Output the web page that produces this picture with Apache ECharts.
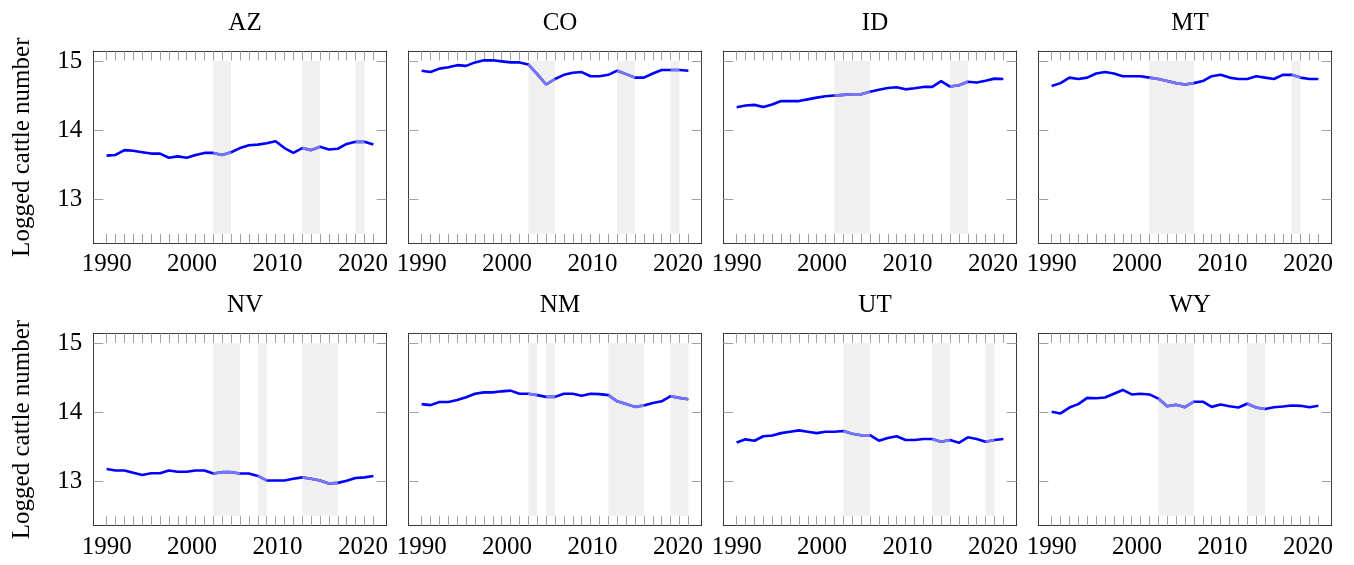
<!DOCTYPE html>
<html><head><meta charset="utf-8">
<script src="https://cdn.jsdelivr.net/npm/echarts@6/dist/echarts.min.js"></script>
<style>html,body{margin:0;padding:0;background:#fff}#c{width:1354px;height:565px}</style>
</head><body><div id="c"></div>
<script>
// ---------- data ----------
const STATES = ['AZ', 'CO', 'ID', 'MT', 'NV', 'NM', 'UT', 'WY'];
const YEARS = [1990, 1991, 1992, 1993, 1994, 1995, 1996, 1997, 1998, 1999,
               2000, 2001, 2002, 2003, 2004, 2005, 2006, 2007, 2008, 2009,
               2010, 2011, 2012, 2013, 2014, 2015, 2016, 2017, 2018, 2019, 2020];
const AZ = [13.63, 13.64, 13.71, 13.70, 13.68, 13.66, 13.66, 13.60, 13.62, 13.60,
            13.64, 13.67, 13.67, 13.64, 13.68, 13.74, 13.78, 13.79, 13.81, 13.84,
            13.74, 13.67, 13.74, 13.71, 13.76, 13.72, 13.73, 13.80, 13.83, 13.83, 13.79];
const CO = [14.86, 14.84, 14.89, 14.91, 14.94, 14.93, 14.98, 15.01, 15.01, 14.995,
            14.98, 14.98, 14.95, 14.81, 14.66, 14.74, 14.80, 14.83, 14.84, 14.78,
            14.78, 14.80, 14.86, 14.81, 14.76, 14.76, 14.82, 14.87, 14.87, 14.87, 14.86];
const ID = [14.33, 14.355, 14.365, 14.335, 14.37, 14.42, 14.42, 14.42, 14.445, 14.47,
            14.49, 14.50, 14.51, 14.52, 14.52, 14.555, 14.585, 14.61, 14.62, 14.59,
            14.605, 14.625, 14.625, 14.71, 14.63, 14.65, 14.70, 14.69, 14.715, 14.745, 14.74];
const MT = [14.64, 14.68, 14.76, 14.74, 14.76, 14.82, 14.84, 14.82, 14.78, 14.78,
            14.78, 14.76, 14.74, 14.71, 14.68, 14.66, 14.68, 14.71, 14.78, 14.80,
            14.76, 14.74, 14.74, 14.78, 14.76, 14.74, 14.80, 14.80, 14.76, 14.74, 14.74];
const NV = [13.18, 13.16, 13.16, 13.125, 13.095, 13.12, 13.12, 13.16, 13.14, 13.14,
            13.16, 13.16, 13.115, 13.135, 13.135, 13.115, 13.115, 13.08, 13.015, 13.015,
            13.015, 13.04, 13.06, 13.04, 13.015, 12.97, 12.98, 13.01, 13.05, 13.06, 13.08];
const NM = [14.12, 14.105, 14.15, 14.15, 14.18, 14.22, 14.27, 14.29, 14.29, 14.305,
            14.315, 14.27, 14.27, 14.25, 14.225, 14.225, 14.27, 14.27, 14.24, 14.27,
            14.265, 14.25, 14.16, 14.12, 14.08, 14.10, 14.135, 14.16, 14.235, 14.21, 14.19];
const UT = [13.565, 13.61, 13.59, 13.655, 13.665, 13.70, 13.72, 13.74, 13.72, 13.70,
            13.72, 13.72, 13.73, 13.69, 13.67, 13.67, 13.59, 13.63, 13.655, 13.60,
            13.60, 13.615, 13.615, 13.575, 13.60, 13.56, 13.64, 13.615, 13.575, 13.60, 13.615];
const WY = [14.01, 13.985, 14.07, 14.12, 14.21, 14.205, 14.215, 14.27, 14.325, 14.26,
            14.27, 14.26, 14.20, 14.09, 14.11, 14.075, 14.155, 14.155, 14.08, 14.115,
            14.09, 14.07, 14.125, 14.07, 14.05, 14.075, 14.085, 14.10, 14.095, 14.075, 14.095];
const VALUES = {AZ, CO, ID, MT, NV, NM, UT, WY};
// drought periods [start year, end year]
const DROUGHT = {
  AZ: [[2002, 2004], [2012, 2014], [2018, 2019]],
  CO: [[2002, 2005], [2012, 2014], [2018, 2019]],
  ID: [[2001, 2005], [2014, 2016]],
  MT: [[2001, 2006], [2017, 2018]],
  NV: [[2002, 2005], [2007, 2008], [2012, 2016]],
  NM: [[2002, 2003], [2004, 2005], [2011, 2015], [2018, 2020]],
  UT: [[2002, 2005], [2012, 2014], [2018, 2019]],
  WY: [[2002, 2006], [2012, 2014]]
};
const BAND_Y = [12.5, 15];
const Y_TICKS = [13, 14, 15];
const X_LABELS = [1990, 2000, 2010, 2020];
const Y_NAME = 'Logged cattle number';

// ---------- layout ----------
const FONT = 'Liberation Serif';
const COL_LEFT = [93.3, 408.3, 723.3, 1038.3];
const ROW_TOP = [51, 333.3];
const GW = 293.4, GH = 192.4;
const SPINE = '#3a3a3a', TICK = '#a0a0a0';

const chart = echarts.init(document.getElementById('c'), null, {renderer: 'canvas'});
const grid = [], xAxis = [], yAxis = [], series = [], title = [];

STATES.forEach((st, p) => {
  const col = p % 4, row = Math.floor(p / 4);
  grid.push({left: COL_LEFT[col], top: ROW_TOP[row], width: GW, height: GH, containLabel: false});
  title.push({
    text: st, left: COL_LEFT[col] + GW / 2, top: ROW_TOP[row] - 45, textAlign: 'center',
    textStyle: {fontFamily: FONT, fontSize: 25, fontWeight: 'normal', color: '#000'}
  });
  const xi = xAxis.length;
  const tickCommon = {show: true, inside: true, length: 9.5, customValues: YEARS,
                      lineStyle: {color: TICK, width: 1}};
  // data axis bottom
  xAxis.push({gridIndex: p, type: 'value', position: 'bottom', min: 1988.5, max: 2021.5,
    axisLine: {show: true, onZero: false, lineStyle: {color: SPINE, width: 1}},
    axisTick: tickCommon, axisLabel: {show: false}, splitLine: {show: false}});
  // data axis top
  xAxis.push({gridIndex: p, type: 'value', position: 'top', min: 1988.5, max: 2021.5,
    axisLine: {show: true, onZero: false, lineStyle: {color: SPINE, width: 1}},
    axisTick: tickCommon, axisLabel: {show: false}, splitLine: {show: false}});
  // label axis
  xAxis.push({gridIndex: p, type: 'value', position: 'bottom', min: 1988.43, max: 2022.79,
    axisLine: {show: false, onZero: false}, axisTick: {show: false}, splitLine: {show: false},
    axisLabel: {show: true, customValues: X_LABELS, margin: 9, fontFamily: FONT, fontSize: 25,
                color: '#000', formatter: v => String(v)}});
  const yi = yAxis.length;
  const yTick = {show: true, inside: true, length: 10, customValues: Y_TICKS,
                 lineStyle: {color: TICK, width: 1}};
  yAxis.push({gridIndex: p, type: 'value', position: 'left', min: 12.36, max: 15.145,
    axisLine: {show: true, onZero: false, lineStyle: {color: SPINE, width: 1}},
    axisTick: yTick, splitLine: {show: false},
    axisLabel: {show: col === 0, customValues: Y_TICKS, margin: 11, fontFamily: FONT, fontSize: 25, color: '#000'},
    name: col === 0 ? Y_NAME : '', nameLocation: 'middle', nameRotate: 90, nameGap: 58,
    nameTextStyle: {fontFamily: FONT, fontSize: 25, color: '#000'}});
  yAxis.push({gridIndex: p, type: 'value', position: 'right', min: 12.36, max: 15.145,
    axisLine: {show: true, onZero: false, lineStyle: {color: SPINE, width: 1}},
    axisTick: yTick, axisLabel: {show: false}, splitLine: {show: false}});

  const vals = VALUES[st];
  const pts = YEARS.map((y, i) => [y, vals[i]]);
  // bands
  series.push({type: 'line', xAxisIndex: xi, yAxisIndex: yi, data: [], z: 1, silent: true,
    markArea: {silent: true, itemStyle: {color: '#f0f0f0'},
      data: DROUGHT[st].map(([a, b]) => [{xAxis: a, yAxis: BAND_Y[0]}, {xAxis: b, yAxis: BAND_Y[1]}])}});
  // main line
  series.push({type: 'line', xAxisIndex: xi, yAxisIndex: yi, data: pts, showSymbol: false, symbol: 'none',
    z: 3, silent: true, animation: false, lineStyle: {color: '#0000ff', width: 2.6}});
  // lighter segments in drought periods
  DROUGHT[st].forEach(([a, b]) => {
    series.push({type: 'line', xAxisIndex: xi, yAxisIndex: yi, z: 4, silent: true, animation: false,
      data: pts.filter(d => d[0] >= a && d[0] <= b), showSymbol: false, symbol: 'none',
      lineStyle: {color: '#7676f6', width: 2.6}});
  });
});

chart.setOption({animation: false, backgroundColor: '#fff', title, grid, xAxis, yAxis, series});
</script></body></html>
